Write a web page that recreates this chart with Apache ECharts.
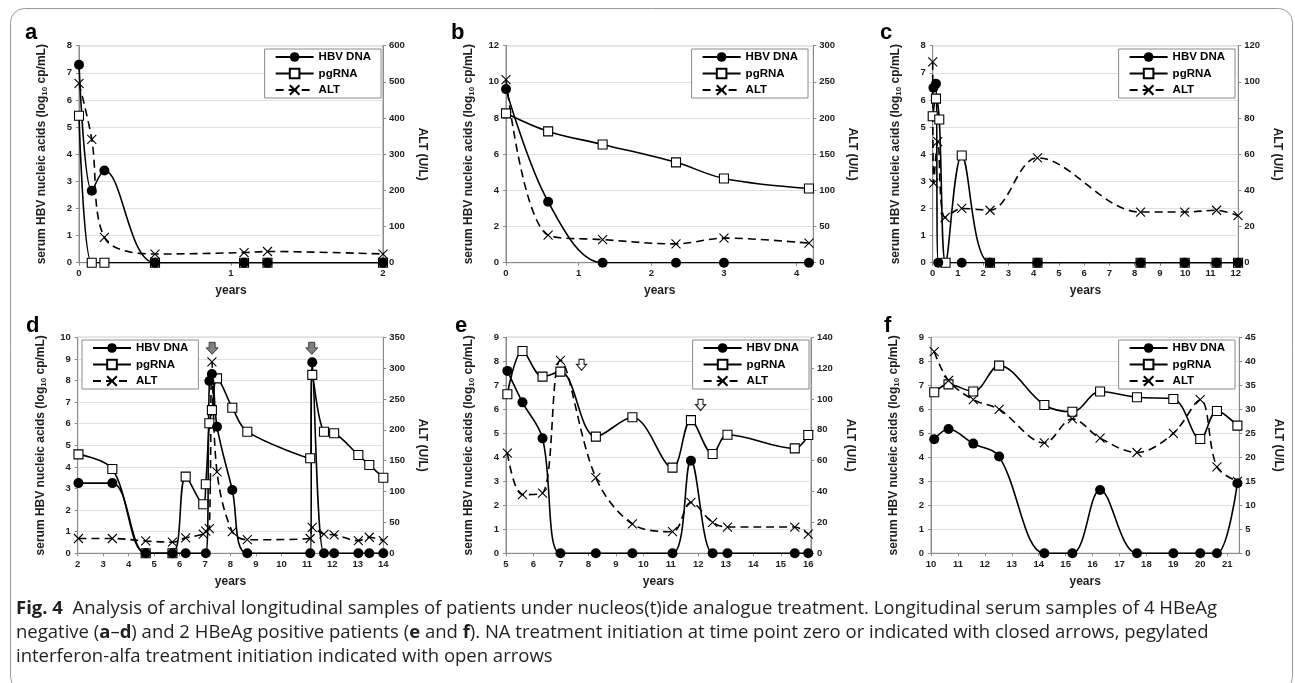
<!DOCTYPE html>
<html>
<head>
<meta charset="utf-8">
<script src="https://cdn.jsdelivr.net/npm/echarts@6/dist/echarts.min.js"></script>
<style>
  html, body { margin: 0; padding: 0; background: #fff; }
  #chart { width: 1295px; height: 683px; }
</style>
</head>
<body>
<div id="chart"></div>
<script>
// ---- Patient a (HBeAg negative) ----
const aYears = [0, 0.084, 0.167, 0.5, 1.086, 1.24, 2];
const aDna   = [7.3, 2.65, 3.4, 0, 0, 0, 0];
const aRna   = [5.42, 0, 0, 0, 0, 0, 0];
const aAlt   = [496, 341, 70, 24, 28, 31, 24];

// ---- Patient b (HBeAg negative) ----
const bYears = [0, 0.58, 1.33, 2.34, 3.0, 4.17];
const bDna   = [9.6, 3.37, 0, 0, 0, 0];
const bRna   = [8.26, 7.26, 6.54, 5.55, 4.66, 4.1];
const bAlt   = [253, 38, 32, 26, 34, 27];

// ---- Patient c (HBeAg negative) ----
const cYears = [0, 0.03, 0.04, 0.13, 0.2, 0.22, 0.26, 0.49, 0.51, 1.15, 2.27, 4.15, 8.23, 9.98, 11.24, 12.09];
const cDna   = [null, 6.45, null, 6.6, null, 0, null, null, null, 0, 0, 0, 0, 0, 0, 0];
const cRna   = [5.4, null, null, 6.05, null, null, 5.28, null, 0, 3.95, 0, 0, 0, 0, 0, 0];
const cAlt   = [111, null, 44, null, 67, null, null, 25, null, 30, 29, 58, 28, 28, 29, 26];

// ---- Patient d (HBeAg negative) ----
const dYears = [2.03, 3.36, 4.67, 5.72, 6.24, 6.93, 7.03, 7.17, 7.27, 7.47, 8.07, 8.66, 11.13, 11.21, 11.67, 12.07, 13.02, 13.45, 14.0];
const dDna   = [3.25, 3.25, 0, 0, 0, null, 0, 7.98, 8.3, 5.86, 2.93, 0, 0, 8.84, 0, 0, 0, 0, 0];
const dRna   = [4.58, 3.9, 0, 0, 3.55, 2.27, 3.2, 6.02, 6.63, 8.1, 6.74, 5.63, 4.4, 8.26, 5.63, 5.56, 4.55, 4.09, 3.5];
const dAlt   = [24, 24, 20, 18, 25, 31, 36, 40, 310, 132, 35, 22, 24, 42, 31, 30, 20.5, 26, 20.5];
const dNaStart = [7.28, 11.19];          // closed arrows (NA initiation)

// ---- Patient e (HBeAg positive) ----
const eYears = [5.05, 5.6, 6.33, 6.98, 8.27, 9.6, 11.06, 11.73, 12.52, 13.06, 15.51, 16.0];
const eDna   = [7.6, 6.29, 4.79, 0, 0, 0, 0, 3.86, 0, 0, 0, 0];
const eRna   = [6.63, 8.43, 7.36, 7.57, 4.86, 5.67, 3.57, 5.55, 4.14, 4.94, 4.37, 4.93];
const eAlt   = [65, 38, 39, 125, 49, 19, 14, 33, 20, 17, 17, 12.5];
const ePegIfnStart = [7.75, 12.08];      // open arrows (peg-IFN initiation)

// ---- Patient f (HBeAg positive) ----
const fYears = [10.12, 10.65, 11.57, 12.53, 14.21, 15.25, 16.28, 17.65, 19.0, 20.0, 20.62, 21.38];
const fDna   = [4.75, 5.18, 4.57, 4.03, 0, 0, 2.64, 0, 0, 0, 0, 2.92];
const fRna   = [6.71, 7.04, 6.74, 7.82, 6.18, 5.9, 6.74, 6.5, 6.43, 4.76, 5.93, 5.32];
const fAlt   = [42, 36, 32, 30, 23, 28, 24, 21, 25, 32, 18, 15];

const seriesNames = ['HBV DNA', 'pgRNA', 'ALT'];
const leftAxisName = '{t|serum HBV nucleic acids (log}{s|10}{t| cp/mL)}';
const rightAxisName = 'ALT (U/L)';
const xAxisName = 'years';

const FONT = '"Liberation Sans", Arial, Helvetica, sans-serif';
const AXIS_COLOR = '#8a8a8a';
const GRID_COLOR = '#e0e0e0';
const TEXT_COLOR = '#1e1e1e';

// layout of the six panels
const panels = [
  { letter: 'a', years: aYears, dna: aDna, rna: aRna, alt: aAlt,
    grid: { left: 79, top: 45.7, width: 304, height: 217 },
    x: { min: 0, max: 2, interval: 1 }, yl: { max: 8, interval: 1 }, yr: { max: 600, interval: 100 },
    legend: { right: 914, top: 49 }, letterPos: [25, 32.5] },
  { letter: 'b', years: bYears, dna: bDna, rna: bRna, alt: bAlt,
    grid: { left: 506, top: 45.7, width: 307.3, height: 217 },
    x: { min: 0, max: 4.23, interval: 1 }, yl: { max: 12, interval: 2 }, yr: { max: 300, interval: 50 },
    legend: { right: 487, top: 49 }, letterPos: [451, 32.5] },
  { letter: 'c', years: cYears, dna: cDna, rna: cRna, alt: cAlt,
    grid: { left: 932.7, top: 45.7, width: 305.6, height: 217 },
    x: { min: 0, max: 12.1, interval: 1 }, yl: { max: 8, interval: 1 }, yr: { max: 120, interval: 20 },
    legend: { right: 60, top: 49 }, letterPos: [880, 32.5] },
  { letter: 'd', years: dYears, dna: dDna, rna: dRna, alt: dAlt,
    grid: { left: 77.7, top: 337.3, width: 305.6, height: 216 },
    x: { min: 2, max: 14, interval: 1 }, yl: { max: 10, interval: 1 }, yr: { max: 350, interval: 50 },
    legend: { left: 82, top: 340 }, letterPos: [26, 325.5],
    arrows: { years: dNaStart, level: 9.49, open: false } },
  { letter: 'e', years: eYears, dna: eDna, rna: eRna, alt: eAlt,
    grid: { left: 506, top: 337.3, width: 305, height: 216 },
    x: { min: 5, max: 16.1, interval: 1 }, yl: { max: 9, interval: 1 }, yr: { max: 140, interval: 20 },
    legend: { right: 486, top: 340 }, letterPos: [455, 325.5],
    arrows: { years: ePegIfnStart, levels: [7.85, 6.18], open: true } },
  { letter: 'f', years: fYears, dna: fDna, rna: fRna, alt: fAlt,
    grid: { left: 931, top: 337.3, width: 308.3, height: 216 },
    x: { min: 10, max: 21.45, interval: 1 }, yl: { max: 9, interval: 1 }, yr: { max: 45, interval: 5 },
    legend: { right: 60, top: 340 }, letterPos: [884, 325.5] }
];

function pairs(xs, ys) {
  const out = [];
  xs.forEach((x, i) => { if (ys[i] !== null && ys[i] !== undefined) out.push([x, ys[i]]); });
  return out;
}

function onTick(v, min, step) {
  const k = (v - min) / step;
  return Math.abs(k - Math.round(k)) < 1e-6;
}

const tickLabel = { fontSize: 9.5, fontWeight: 'bold', color: TEXT_COLOR, fontFamily: FONT };
const axisLine = { show: true, onZero: false, lineStyle: { color: AXIS_COLOR, width: 1 } };
const axisTick = { show: true, length: 3, lineStyle: { color: AXIS_COLOR } };

const X_SYMBOL = 'path://M0,0L10,10M10,0L0,10';
const ARROW = 'path://M3,0L9,0L9,6L12,6L6,13L0,6L3,6Z';

const grids = [], xAxes = [], yAxes = [], series = [], legends = [], graphics = [];

panels.forEach((p, i) => {
  grids.push(Object.assign({ show: true, borderColor: AXIS_COLOR, borderWidth: 1,
                             backgroundColor: 'transparent', containLabel: false }, p.grid));

  xAxes.push({
    type: 'value', gridIndex: i, min: p.x.min, max: p.x.max, interval: p.x.interval,
    axisLine, axisTick,
    axisLabel: Object.assign({ margin: 6, showMaxLabel: onTick(p.x.max, p.x.min, p.x.interval) }, tickLabel),
    splitLine: { show: false },
    name: xAxisName, nameLocation: 'middle', nameGap: 22,
    nameTextStyle: { fontSize: 12, fontWeight: 'bold', color: TEXT_COLOR, fontFamily: FONT }
  });

  yAxes.push({
    type: 'value', gridIndex: i, position: 'left', min: 0, max: p.yl.max, interval: p.yl.interval,
    axisLine, axisTick,
    axisLabel: Object.assign({ margin: 7 }, tickLabel),
    splitLine: { show: true, lineStyle: { color: GRID_COLOR, width: 1 } },
    name: leftAxisName, nameLocation: 'middle', nameGap: 30, nameRotate: 90,
    nameTextStyle: {
      color: TEXT_COLOR,
      rich: {
        t: { fontSize: 12, fontWeight: 'bold', color: TEXT_COLOR, fontFamily: FONT, lineHeight: 14 },
        s: { fontSize: 8, fontWeight: 'bold', color: TEXT_COLOR, fontFamily: FONT, lineHeight: 14, verticalAlign: 'bottom', padding: [5, 0, 0, 0] }
      }
    }
  });
  yAxes.push({
    type: 'value', gridIndex: i, position: 'right', min: 0, max: p.yr.max, interval: p.yr.interval,
    alignTicks: false,
    axisLine, axisTick,
    axisLabel: Object.assign({ margin: 6 }, tickLabel),
    splitLine: { show: false },
    name: rightAxisName, nameLocation: 'middle', nameGap: 33, nameRotate: -90,
    nameTextStyle: { fontSize: 12, fontWeight: 'bold', color: TEXT_COLOR, fontFamily: FONT }
  });

  const common = {
    type: 'line', xAxisIndex: i, yAxisIndex: 2 * i, smooth: 0.35,
    showSymbol: true, showAllSymbol: true, connectNulls: true, animation: false,
    emphasis: { disabled: true }, silent: true
  };

  const rna = Object.assign({}, common, {
    name: seriesNames[1], data: pairs(p.years, p.rna),
    symbol: 'rect', symbolSize: 9,
    itemStyle: { color: '#fff', borderColor: '#000', borderWidth: 1.1 },
    lineStyle: { color: '#000', width: 1.6 }
  });
  const dna = Object.assign({}, common, {
    name: seriesNames[0], data: pairs(p.years, p.dna),
    symbol: 'circle', symbolSize: 10,
    itemStyle: { color: '#000' },
    lineStyle: { color: '#000', width: 1.6 }
  });
  const alt = Object.assign({}, common, {
    name: seriesNames[2], data: pairs(p.years, p.alt), yAxisIndex: 2 * i + 1,
    symbol: X_SYMBOL, symbolSize: 9,
    itemStyle: { color: '#000', borderColor: '#000', borderWidth: 1.1 },
    lineStyle: { color: '#000', width: 1.6, type: [8, 5] }
  });

  if (p.arrows) {
    const a = p.arrows;
    dna.markPoint = {
      silent: true, animation: false,
      symbol: ARROW, symbolSize: a.open ? [10, 11] : [12, 12],
      itemStyle: a.open ? { color: '#fff', borderColor: '#2a2a2a', borderWidth: 1.2 }
                        : { color: '#808080', borderColor: '#3a3a3a', borderWidth: 1 },
      label: { show: false },
      data: a.years.map((yr, k) => ({ coord: [yr, a.levels ? a.levels[k] : a.level] }))
    };
  }
  series.push(rna, dna, alt);

  legends.push(Object.assign({
    orient: 'vertical', data: seriesNames, selectedMode: false,
    itemWidth: 38, itemHeight: 12, itemGap: 4.5,
    padding: [2, 10, 2, 10],
    backgroundColor: '#fff', borderColor: AXIS_COLOR, borderWidth: 1,
    textStyle: { fontSize: 11.5, fontWeight: 'bold', color: '#000', fontFamily: FONT }
  }, p.legend));

  graphics.push({
    type: 'text', x: p.letterPos[0], y: p.letterPos[1], silent: true,
    style: { text: p.letter, font: 'bold 22px ' + FONT, fill: '#000', verticalAlign: 'middle' }
  });
});

// figure caption
const CAP = '18.5px "Open Sans", Lato, sans-serif';
const CAP_B = 'bold 18.5px "Open Sans", Lato, sans-serif';
const captionLines = [
  '{b|Fig. 4}  Analysis of archival longitudinal samples of patients under nucleos(t)ide analogue treatment. Longitudinal serum samples of 4 HBeAg',
  'negative ({b|a}–{b|d}) and 2 HBeAg positive patients ({b|e} and {b|f}). NA treatment initiation at time point zero or indicated with closed arrows, pegylated',
  'interferon-alfa treatment initiation indicated with open arrows'
];
const captionY = [608.5, 632.5, 656.5];
captionLines.forEach((line, k) => {
  graphics.push({
    type: 'text', x: 16, y: captionY[k], silent: true,
    style: { text: line, font: CAP, fill: '#231f20', verticalAlign: 'middle',
             rich: { b: { font: CAP_B, fill: '#231f20' } } }
  });
});

// rounded frame around the figure
graphics.push({
  type: 'rect', silent: true, z: -10,
  shape: { x: 10.5, y: 8.5, width: 1282, height: 682, r: 14 },
  style: { fill: 'none', stroke: '#9a9a9a', lineWidth: 1 }
});

const chart = echarts.init(document.getElementById('chart'), null, { renderer: 'canvas' });
chart.setOption({
  backgroundColor: '#fff',
  animation: false,
  textStyle: { fontFamily: FONT },
  grid: grids, xAxis: xAxes, yAxis: yAxes,
  legend: legends, series: series, graphic: graphics
});
</script>
</body>
</html>
